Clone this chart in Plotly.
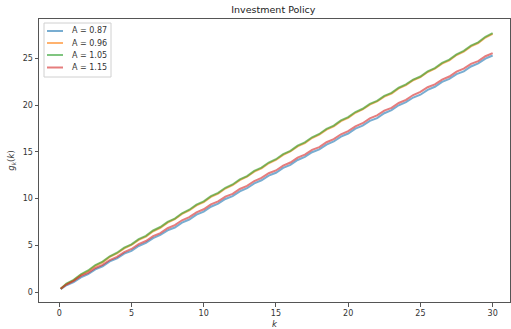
import plotly.graph_objects as go

# capital grid (whole and half steps) and the optimal investment policy
# for each productivity level A
k_whole = [0.1] + list(range(1, 31))
k_half = [i + 0.5 for i in range(30)]

A_values = [0.87, 0.96, 1.05, 1.15]

g_087_whole = [0.30, 1.05, 1.90, 2.75, 3.60, 4.40, 5.25, 6.10, 6.90, 7.75, 8.60,
               9.45, 10.25, 11.10, 11.95, 12.75, 13.60, 14.45, 15.25, 16.10, 16.95,
               17.80, 18.60, 19.45, 20.30, 21.10, 21.95, 22.80, 23.60, 24.45, 25.30]
g_087_half = [0.72, 1.57, 2.42, 3.27, 4.10, 4.92, 5.77, 6.60, 7.42, 8.27,
              9.12, 9.95, 10.77, 11.62, 12.45, 13.27, 14.12, 14.95, 15.77, 16.62,
              17.47, 18.30, 19.12, 19.97, 20.80, 21.62, 22.47, 23.30, 24.12, 24.97]

g_096_whole = [0.35, 1.25, 2.22, 3.18, 4.12, 5.03, 5.93, 6.87, 7.78, 8.72, 9.62,
               10.53, 11.42, 12.33, 13.22, 14.12, 15.03, 15.92, 16.83, 17.72, 18.62,
               19.52, 20.38, 21.23, 22.13, 22.98, 23.88, 24.78, 25.72, 26.63, 27.62]
g_096_half = [0.85, 1.83, 2.80, 3.75, 4.67, 5.58, 6.50, 7.42, 8.35, 9.27,
              10.17, 11.07, 11.97, 12.87, 13.77, 14.67, 15.57, 16.47, 17.37, 18.27,
              19.17, 20.05, 20.90, 21.78, 22.65, 23.53, 24.43, 25.35, 26.27, 27.22]

g_105_whole = [0.35, 1.30, 2.30, 3.25, 4.20, 5.10, 6.00, 6.95, 7.85, 8.80, 9.70,
               10.60, 11.50, 12.40, 13.30, 14.20, 15.10, 16.00, 16.90, 17.80, 18.70,
               19.60, 20.45, 21.30, 22.20, 23.05, 23.95, 24.85, 25.80, 26.70, 27.70]
g_105_half = [0.90, 1.90, 2.88, 3.82, 4.75, 5.65, 6.58, 7.50, 8.42, 9.35,
              10.25, 11.15, 12.05, 12.95, 13.85, 14.75, 15.65, 16.55, 17.45, 18.35,
              19.25, 20.12, 20.98, 21.85, 22.72, 23.60, 24.50, 25.42, 26.35, 27.30]

g_115_whole = [0.35, 1.20, 2.05, 2.90, 3.75, 4.60, 5.45, 6.30, 7.15, 8.00, 8.85,
               9.70, 10.50, 11.35, 12.20, 13.00, 13.85, 14.70, 15.50, 16.35, 17.20,
               18.05, 18.90, 19.70, 20.55, 21.40, 22.20, 23.05, 23.90, 24.70, 25.55]
g_115_half = [0.80, 1.72, 2.57, 3.42, 4.27, 5.12, 5.97, 6.82, 7.67, 8.52,
              9.37, 10.20, 11.02, 11.87, 12.70, 13.52, 14.37, 15.20, 16.02, 16.87,
              17.72, 18.57, 19.40, 20.22, 21.07, 21.90, 22.72, 23.57, 24.40, 25.22]

policies = [(g_087_whole, g_087_half), (g_096_whole, g_096_half),
            (g_105_whole, g_105_half), (g_115_whole, g_115_half)]
colors = ["#1f77b4", "#ff7f0e", "#2ca02c", "#d62728"]
labels = [f"A = {A:.2f}" for A in A_values]

x_ticks = [0, 5, 10, 15, 20, 25, 30]
y_ticks = [0, 5, 10, 15, 20, 25]

W, H = 511, 329
M_L, M_R, M_T, M_B = 39, 1, 19, 27
PW, PH = W - M_L - M_R, H - M_T - M_B


def px_x(p):
    return (p - M_L) / PW


def px_y(p):
    return 1 - (p - M_T) / PH


def merged(whole, half):
    pts = sorted(zip(k_whole + k_half, whole + half))
    return [p[0] for p in pts], [p[1] for p in pts]


fig = go.Figure()
for lab, (gw, gh), c in zip(labels, policies, colors):
    ks, gs = merged(gw, gh)
    fig.add_trace(go.Scatter(
        x=ks, y=gs, mode="lines", name=lab, showlegend=False,
        line=dict(color=c, width=2), opacity=0.6,
    ))

# compact legend box in the upper-left corner
shapes = [dict(type="rect", xref="paper", yref="paper",
               x0=px_x(44), x1=px_x(111), y0=px_y(77), y1=px_y(23),
               line=dict(color="#d0d0d0", width=1), fillcolor="rgba(255,255,255,0.85)",
               layer="above")]
annotations = []
row_y = [31, 43, 55, 67.5]
for lab, c, ry in zip(labels, colors, row_y):
    shapes.append(dict(type="line", xref="paper", yref="paper",
                       x0=px_x(47), x1=px_x(63), y0=px_y(ry), y1=px_y(ry),
                       line=dict(color=c, width=2), opacity=0.6, layer="above"))
    annotations.append(dict(text=lab, xref="paper", yref="paper",
                            x=px_x(69.5), y=px_y(ry), xanchor="left", yanchor="middle",
                            showarrow=False,
                            font=dict(family="DejaVu Sans", size=8, color="#333333")))

axis_common = dict(
    showline=True, linecolor="#555555", linewidth=1, mirror=True,
    ticks="outside", ticklen=3.5, tickcolor="#555555", tickwidth=1,
    showgrid=False, zeroline=False,
    tickfont=dict(family="DejaVu Sans", size=8, color="#333333"),
)

fig.update_layout(
    width=W, height=H,
    margin=dict(l=M_L, r=M_R, t=M_T, b=M_B),
    paper_bgcolor="white", plot_bgcolor="white",
    title=dict(text="Investment Policy", x=0.535, xanchor="center",
               y=0.972, yanchor="middle",
               font=dict(family="DejaVu Sans", size=9.5, color="#222222")),
    xaxis=dict(range=[-1.4, 31.2], tickvals=x_ticks,
               title=dict(text="<i>k</i>", standoff=4,
                          font=dict(family="DejaVu Sans", size=8.5, color="#333333")),
               **axis_common),
    yaxis=dict(range=[-1.07, 29.2], tickvals=y_ticks,
               title=dict(text="<i>g</i><sub><i>k</i></sub>(<i>k</i>)", standoff=6,
                          font=dict(family="DejaVu Sans", size=8.5, color="#333333")),
               **axis_common),
    shapes=shapes,
    annotations=annotations,
    showlegend=False,
)

fig.write_html("out.html")
